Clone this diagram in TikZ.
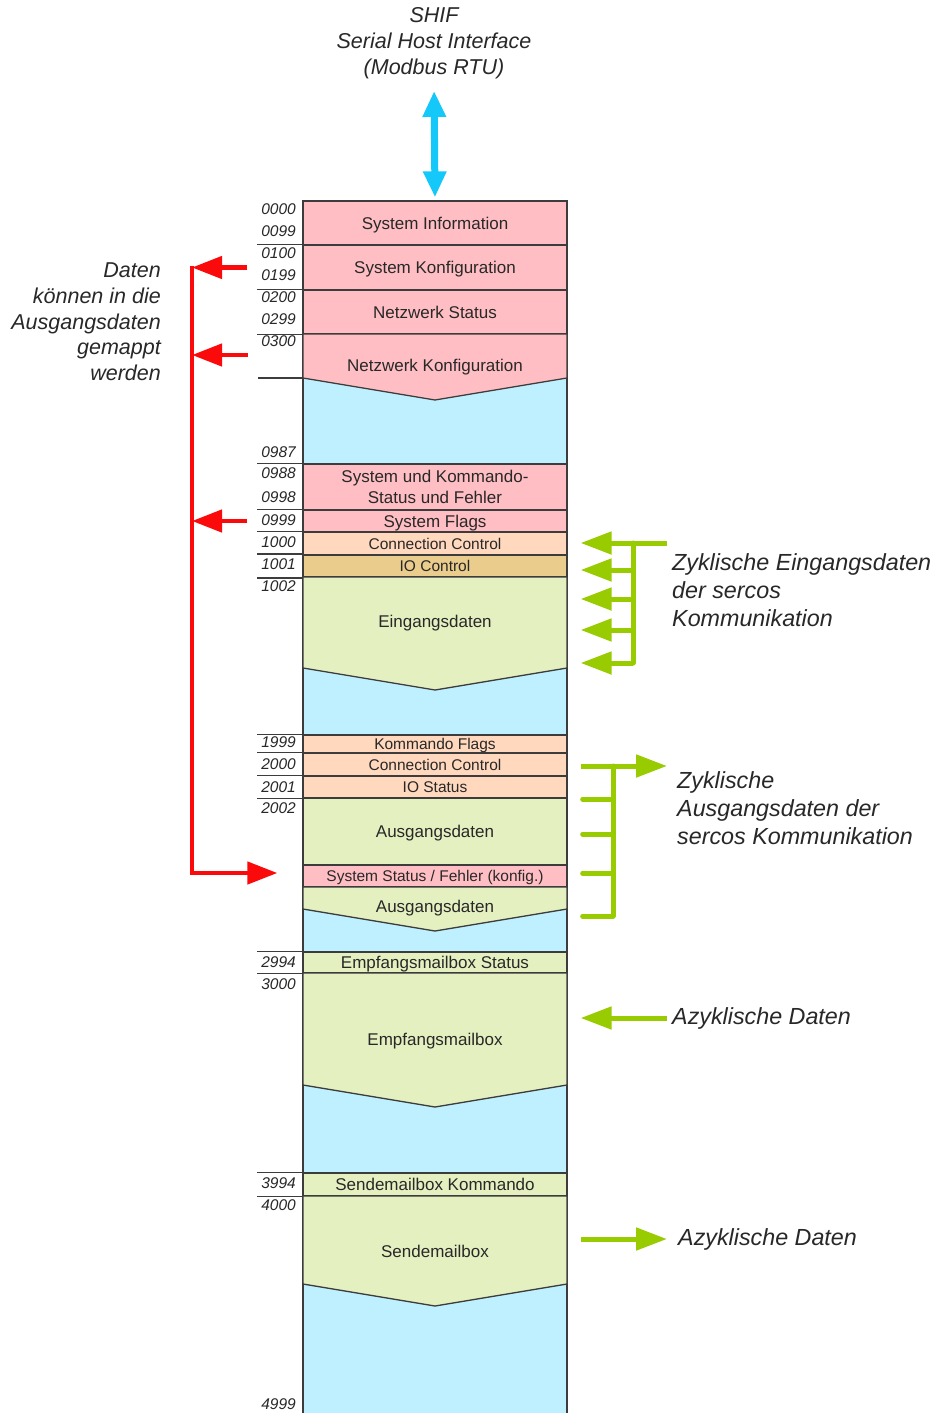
\documentclass[tikz,border=0pt]{standalone}
\usepackage{fontspec}
\setmainfont{Liberation Sans}
\usepackage{tikz}
\definecolor{memPink}{RGB}{255,190,195}
\definecolor{memBlue}{RGB}{190,240,255}
\definecolor{memPeach}{RGB}{255,216,190}
\definecolor{memTan}{RGB}{234,204,140}
\definecolor{memGreen}{RGB}{228,240,192}
\definecolor{frameGray}{RGB}{60,60,60}
\definecolor{labelGray}{RGB}{40,40,40}
\definecolor{busGreen}{RGB}{153,204,0}
\definecolor{mapRed}{RGB}{250,10,10}
\definecolor{shifCyan}{RGB}{20,200,250}
\usetikzlibrary{positioning,arrows.meta}

\begin{document}
\begin{tikzpicture}[
  x=1pt,
  y=-1pt,
  every node/.style={align=center, text=labelGray},
  memcol/.style={draw=frameGray, line width=1.3pt, fill=memBlue, minimum width=264pt, inner sep=0pt},
  reg/.style={draw=frameGray, line width=1.3pt, minimum width=264pt, inner sep=0pt, font=\fontsize{17}{21}\selectfont},
  regone/.style={reg, text depth=0pt},
  regsmall/.style={regone, font=\fontsize{15.5}{18}\selectfont},
  vreg/.style={draw=frameGray, line width=1.3pt},
  regtext/.style={inner sep=0pt, font=\fontsize{17}{21}\selectfont},
  addr/.style={anchor=east, inner sep=0pt, font=\fontsize{15.5}{18}\selectfont\itshape},
  tick/.style={draw=frameGray, line width=1.1pt},
  note/.style={inner sep=0pt, font=\fontsize{23.3}{28}\selectfont\itshape},
  maparr/.style={draw=mapRed, line width=4.5pt, -{Triangle[length=30pt,width=22pt]}},
  busarr/.style={draw=busGreen, line width=5pt, -{Triangle[length=31pt,width=22pt]}},
  busline/.style={draw=busGreen, line width=5pt, line cap=round},
  hostarr/.style={draw=shifCyan, line width=7pt, {Triangle[length=26pt,width=22pt]}-{Triangle[length=26pt,width=22pt]}}
]
\useasboundingbox[fill=white] (0,0) rectangle (936,1413);

% memory column
\node[memcol, minimum height=1220pt] (mem) at (435,811) {};

\node[regone, fill=memPink, minimum height=44pt] (sysinfo) at (435,223) {System Information};
\node[regone, fill=memPink, minimum height=45pt] (syskonf) at (435,267.5) {System Konfiguration};
\node[regone, fill=memPink, minimum height=44pt] (netstat) at (435,312) {Netzwerk Status};
\draw[vreg, fill=memPink] (303,334) -- (567,334) -- (567,378) -- (435,400) -- (303,378) -- cycle;
\node[regtext] (netkonf) at (435,367) {Netzwerk Konfiguration};
\coordinate (netkonfW) at (303,355);
\coordinate (netkonfS) at (303,378);

\node[reg, fill=memPink, minimum height=46pt] (syskomm) at (435,487) {System und Kommando-\\Status und Fehler};
\node[regone, fill=memPink, minimum height=22pt] (sysflags) at (435,521) {System Flags};
\node[regsmall, fill=memPeach, minimum height=23pt] (connin) at (435,543.5) {Connection Control};
\node[regsmall, fill=memTan, line width=2pt, minimum height=22pt] (ioctrl) at (435,566) {IO Control};
\draw[vreg, fill=memGreen] (303,577) -- (567,577) -- (567,668) -- (435,690) -- (303,668) -- cycle;
\node[regtext] (eingang) at (435,623) {Eingangsdaten};

\node[regsmall, fill=memPeach, minimum height=18pt] (kommflags) at (435,744) {Kommando Flags};
\node[regsmall, fill=memPeach, minimum height=23pt] (connout) at (435,764.5) {Connection Control};
\node[regsmall, fill=memPeach, minimum height=22pt] (iostatus) at (435,787) {IO Status};
\node[regone, fill=memGreen, minimum height=67pt] (ausgangA) at (435,831.5) {Ausgangsdaten};
\node[regsmall, fill=memPink, minimum height=22pt] (sysstatus) at (435,876) {System Status / Fehler (konfig.)};
\draw[vreg, fill=memGreen] (303,887) -- (567,887) -- (567,909) -- (435,931) -- (303,909) -- cycle;
\node[regtext] (ausgangB) at (435,908) {Ausgangsdaten};

\node[regone, fill=memGreen, minimum height=21pt] (empfstat) at (435,962.5) {Empfangsmailbox Status};
\draw[vreg, fill=memGreen] (303,973) -- (567,973) -- (567,1085) -- (435,1107) -- (303,1085) -- cycle;
\node[regtext] (empf) at (435,1041) {Empfangsmailbox};

\node[regone, fill=memGreen, minimum height=23pt] (sendkomm) at (435,1184.5) {Sendemailbox Kommando};
\draw[vreg, fill=memGreen] (303,1196) -- (567,1196) -- (567,1284) -- (435,1306) -- (303,1284) -- cycle;
\node[regtext] (send) at (435,1251) {Sendemailbox};

% address ticks
\draw[tick] (syskonf.north west) -- ++(-45,0);
\draw[tick] (netstat.north west) -- ++(-45,0);
\draw[tick] (netstat.south west) -- ++(-45,0);
\draw[tick] (netkonfS) -- ++(-45,0);
\draw[tick] (syskomm.north west) -- ++(-45,0);
\draw[tick] (sysflags.north west) -- ++(-45,0);
\draw[tick] (connin.north west) -- ++(-45,0);
\draw[tick] (ioctrl.north west) -- ++(-45,0);
\draw[tick] (ioctrl.south west) -- ++(-45,0);
\draw[tick] (kommflags.north west) -- ++(-45,0);
\draw[tick] (connout.north west) -- ++(-45,0);
\draw[tick] (iostatus.north west) -- ++(-45,0);
\draw[tick] (iostatus.south west) -- ++(-45,0);
\draw[tick] (empfstat.north west) -- ++(-45,0);
\draw[tick] (empfstat.south west) -- ++(-45,0);
\draw[tick] (sendkomm.north west) -- ++(-45,0);
\draw[tick] (sendkomm.south west) -- ++(-45,0);

% addresses
\node[addr] (a0000) at (296,209) {0000};
\node[addr] (a0099) at (296,231) {0099};
\node[addr] (a0100) at (296,253) {0100};
\node[addr] (a0199) at (296,275) {0199};
\node[addr] (a0200) at (296,297) {0200};
\node[addr] (a0299) at (296,319) {0299};
\node[addr] (a0300) at (296,341) {0300};
\node[addr] (a0987) at (296,452) {0987};
\node[addr] (a0988) at (296,473) {0988};
\node[addr] (a0998) at (296,497) {0998};
\node[addr] (a0999) at (296,520) {0999};
\node[addr] (a1000) at (296,542) {1000};
\node[addr] (a1001) at (296,564) {1001};
\node[addr] (a1002) at (296,586) {1002};
\node[addr] (a1999) at (296,742) {1999};
\node[addr] (a2000) at (296,764) {2000};
\node[addr] (a2001) at (296,787) {2001};
\node[addr] (a2002) at (296,808) {2002};
\node[addr] (a2994) at (296,962) {2994};
\node[addr] (a3000) at (296,984) {3000};
\node[addr] (a3994) at (296,1183) {3994};
\node[addr] (a4000) at (296,1205) {4000};
\node[addr] (a4999) at (296,1404) {4999};

% host interface
\node[note, font=\fontsize{21.5}{26}\selectfont\itshape] (shif) at (434,43) {SHIF\\Serial Host Interface\\(Modbus RTU)};
\draw[hostarr, shorten <=12pt, shorten >=3pt] (shif.south) -- (sysinfo.north);

% mapping into the output data
\node[note, anchor=east, align=right, font=\fontsize{21.5}{25.7}\selectfont\itshape] (mapnote) at (161,322)
  {Daten\\können in die\\Ausgangsdaten\\gemappt\\werden};
\coordinate (mapTop) at (192,266);
\coordinate (mapBot) at (192,873);
\draw[maparr, shorten >=25pt] (mapTop) -- (mapBot) -- (mapBot -| sysstatus.west);
\draw[maparr] ([xshift=-55pt]syskonf.west) -- (syskonf.west -| mapTop);
\draw[maparr] ([xshift=-55pt]netkonfW) -- (netkonfW -| mapTop);
\draw[maparr] ([xshift=-55pt]sysflags.west) -- (sysflags.west -| mapTop);

% cyclic input data
\node[note, anchor=west, align=left] (innote) at (672,590) {Zyklische Eingangsdaten\\der sercos\\Kommunikation};
\coordinate (inEnd) at (667,543);
\coordinate (inBus) at (633,543);
\coordinate (inBusEnd) at (633,663);
\coordinate (inTapB) at (633,570);
\coordinate (inTapC) at (633,599);
\coordinate (inTapD) at (633,630);
\draw[busline] (inBus) -- (inBusEnd);
\draw[busarr, shorten >=13pt] (inEnd) -- (inEnd -| mem.east);
\draw[busarr, shorten >=13pt] (inTapB) -- (inTapB -| mem.east);
\draw[busarr, shorten >=13pt] (inTapC) -- (inTapC -| mem.east);
\draw[busarr, shorten >=13pt] (inTapD) -- (inTapD -| mem.east);
\draw[busarr, shorten >=13pt] (inBusEnd) -- (inBusEnd -| mem.east);

% cyclic output data
\node[note, anchor=west, align=left] (outnote) at (677,808) {Zyklische\\Ausgangsdaten der\\sercos Kommunikation};
\coordinate (outTip) at (667,766);
\coordinate (outBus) at (613,766);
\coordinate (outTapB) at (613,799);
\coordinate (outTapC) at (613,834);
\coordinate (outTapD) at (613,873);
\coordinate (outBusEnd) at (613,916);
\draw[busline] (outBus) -- (outBusEnd);
\draw[busarr, shorten <=13pt] (outTip -| mem.east) -- (outTip);
\draw[busline, shorten <=15pt] (outTapB -| mem.east) -- (outTapB);
\draw[busline, shorten <=15pt] (outTapC -| mem.east) -- (outTapC);
\draw[busline, shorten <=15pt] (outTapD -| mem.east) -- (outTapD);
\draw[busline, shorten <=15pt] (outBusEnd -| mem.east) -- (outBusEnd);

% acyclic data
\node[note, anchor=west] (azinnote) at (672,1018) {Azyklische Daten};
\node[note, anchor=west] (azoutnote) at (678,1239) {Azyklische Daten};
\draw[busarr, shorten <=5pt, shorten >=13pt] (azinnote.west) -- (azinnote.west -| mem.east);
\draw[busarr, shorten <=13pt, shorten >=11pt] (azoutnote.west -| mem.east) -- (azoutnote.west);
\end{tikzpicture}
\end{document}
